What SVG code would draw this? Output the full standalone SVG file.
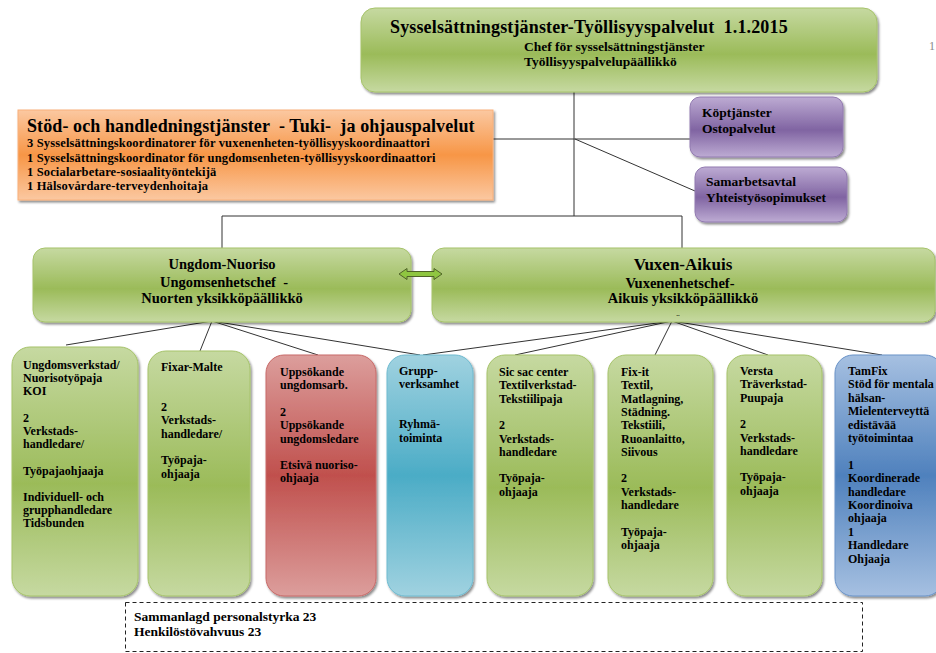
<svg xmlns="http://www.w3.org/2000/svg" width="936" height="653" viewBox="0 0 936 653">
<defs>
<linearGradient id="gGreen" x1="0" y1="0" x2="0" y2="1"><stop offset="0" stop-color="#c6d9a1"/><stop offset="0.55" stop-color="#9bbb59"/><stop offset="1" stop-color="#c6d9a1"/></linearGradient>
<linearGradient id="gRed" x1="0" y1="0" x2="0" y2="1"><stop offset="0" stop-color="#dc9e9c"/><stop offset="0.5" stop-color="#c0504d"/><stop offset="1" stop-color="#dc9e9c"/></linearGradient>
<linearGradient id="gCyan" x1="0" y1="0" x2="0" y2="1"><stop offset="0" stop-color="#a0d2e0"/><stop offset="0.5" stop-color="#4bacc6"/><stop offset="1" stop-color="#a0d2e0"/></linearGradient>
<linearGradient id="gBlue" x1="0" y1="0" x2="0" y2="1"><stop offset="0" stop-color="#a6c0e1"/><stop offset="0.5" stop-color="#4f81bd"/><stop offset="1" stop-color="#a6c0e1"/></linearGradient>
<linearGradient id="gPurple" x1="0" y1="0" x2="0" y2="1"><stop offset="0" stop-color="#bdabd3"/><stop offset="0.55" stop-color="#8064a2"/><stop offset="1" stop-color="#bdabd3"/></linearGradient>
<linearGradient id="gOrange" x1="0" y1="0" x2="0" y2="1"><stop offset="0" stop-color="#fbc8a1"/><stop offset="0.5" stop-color="#f79646"/><stop offset="1" stop-color="#fbc8a1"/></linearGradient>
<filter id="sh" x="-5%" y="-5%" width="115%" height="115%"><feDropShadow dx="1.5" dy="2" stdDeviation="1" flood-color="#000" flood-opacity="0.45"/></filter>
</defs>
<style>
.t{font-family:"Liberation Serif","Times New Roman",serif;font-weight:bold;fill:#000}
.s12{font-size:12px}
.s13{font-size:13.5px}
.s14{font-size:14.5px}
.conn{stroke:#333;stroke-width:1;fill:none}
.box{filter:url(#sh)}
.gr{fill:url(#gGreen);stroke:#a6c36a;stroke-width:1}
.rd{fill:url(#gRed);stroke:#c86a68;stroke-width:1}
.cy{fill:url(#gCyan);stroke:#6fbbd0;stroke-width:1}
.bl{fill:url(#gBlue);stroke:#6a93c8;stroke-width:1}
.pu{fill:url(#gPurple);stroke:#927ab0;stroke-width:1}
.or{fill:url(#gOrange);stroke:#f9b07a;stroke-width:1}
</style>
<rect width="936" height="653" fill="#fff"/>

<g id="connectors">
<path class="conn" d="M574 92 V216 M493 139 H690 M575 139 L695 191 M222 216 H682 M222 216 V248 M682 216 V248"/>
<path class="conn" d="M212 321 L66 345 M212 321 L200 351 M212 321 L318 355 M212 321 L420 355 M672 321 L423 355 M672 321 L515 355 M672 321 L655 355 M672 321 L768 355 M672 321 L882 355"/>
</g>

<g id="top">
<rect class="box gr" x="361" y="8" width="516" height="84" rx="14"/>
<text class="t" x="390" y="33" font-size="18px" letter-spacing="0.15" xml:space="preserve">Sysselsättningstjänster-Työllisyyspalvelut  1.1.2015</text>
<text class="t s13" x="524" y="51">Chef för sysselsättningstjänster</text>
<text class="t s13" x="524" y="66">Työllisyyspalvelupäällikkö</text>
</g>
<text x="929" y="50" font-family="Liberation Serif, serif" font-size="12px" fill="#888">1</text>

<g id="support">
<rect class="box or" x="18" y="110" width="475" height="90"/>
<text class="t" x="27" y="132" font-size="18px" letter-spacing="0.1" xml:space="preserve">Stöd- och handledningstjänster  - Tuki-  ja ohjauspalvelut</text>
<text class="t" font-size="12.5px" letter-spacing="0.15"><tspan x="27" y="147">3 Sysselsättningskoordinatorer för vuxenenheten-työllisyyskoordinaattori</tspan><tspan x="27" y="162">1 Sysselsättningskoordinator för ungdomsenheten-työllisyyskoordinaattori</tspan><tspan x="27" y="176">1 Socialarbetare-sosiaalityöntekijä</tspan><tspan x="27" y="190">1 Hälsovårdare-terveydenhoitaja</tspan></text>
</g>

<g id="kop">
<rect class="box pu" x="690" y="97" width="153" height="60" rx="10"/>
<text class="t" font-size="13.5px"><tspan x="702" y="117">Köptjänster</tspan><tspan x="702" y="133">Ostopalvelut</tspan></text>
</g>
<g id="samarbete">
<rect class="box pu" x="695" y="167" width="152" height="55" rx="10"/>
<text class="t" font-size="13.5px"><tspan x="706" y="186">Samarbetsavtal</tspan><tspan x="706" y="202">Yhteistyösopimukset</tspan></text>
</g>

<g id="ungdom">
<rect class="box gr" x="33" y="248" width="378" height="74" rx="12"/>
<text class="t s14" text-anchor="middle" xml:space="preserve"><tspan x="222" y="269">Ungdom-Nuoriso</tspan><tspan x="224" y="287">Ungomsenhetschef  -</tspan><tspan x="222" y="303">Nuorten yksikköpäällikkö</tspan></text>
</g>
<g id="vuxen">
<rect class="box gr" x="432" y="248" width="503" height="74" rx="12"/>
<text class="t" text-anchor="middle" font-size="17px" x="683" y="270">Vuxen-Aikuis</text>
<text class="t s14" text-anchor="middle"><tspan x="680" y="288">Vuxenenhetschef-</tspan><tspan x="683" y="303">Aikuis yksikköpäällikkö</tspan></text>
<text class="t" text-anchor="middle" font-size="7px" x="678" y="316">..</text>
</g>
<g id="link">
<polygon points="399,274 407,268.5 407,271.5 434,271.5 434,268.5 442,274 434,279.5 434,276.5 407,276.5 407,279.5" fill="#8fc640" stroke="#4f6228" stroke-width="1"/>
</g>

<g id="n1">
<rect class="box gr" x="12" y="347" width="126" height="249" rx="18"/>
<text class="t s12"><tspan x="23" y="369">Ungdomsverkstad/</tspan><tspan x="23" dy="13.2">Nuorisotyöpaja</tspan><tspan x="23" dy="13.2">KOI</tspan><tspan x="23" dy="26.4">2</tspan><tspan x="23" dy="13.2">Verkstads-</tspan><tspan x="23" dy="13.2">handledare/</tspan><tspan x="23" dy="26.4">Työpajaohjaaja</tspan><tspan x="23" dy="26.4">Individuell- och</tspan><tspan x="23" dy="13.2">grupphandledare</tspan><tspan x="23" dy="13.2">Tidsbunden</tspan></text>
</g>
<g id="n2">
<rect class="box gr" x="148" y="351" width="102" height="245" rx="18"/>
<text class="t s12"><tspan x="161" y="371">Fixar-Malte</tspan><tspan x="161" dy="40">2</tspan><tspan x="161" dy="13.3">Verkstads-</tspan><tspan x="161" dy="13.3">handledare/</tspan><tspan x="161" dy="26.6">Työpaja-</tspan><tspan x="161" dy="13.3">ohjaaja</tspan></text>
</g>
<g id="n3">
<rect class="box rd" x="266" y="355" width="110" height="241" rx="18"/>
<text class="t s12"><tspan x="280" y="376">Uppsökande</tspan><tspan x="280" dy="13.3">ungdomsarb.</tspan><tspan x="280" dy="26.6">2</tspan><tspan x="280" dy="13.3">Uppsökande</tspan><tspan x="280" dy="13.3">ungdomsledare</tspan><tspan x="280" dy="26.6">Etsivä nuoriso-</tspan><tspan x="280" dy="13.3">ohjaaja</tspan></text>
</g>
<g id="n4">
<rect class="box cy" x="387" y="355" width="86" height="241" rx="18"/>
<text class="t s12"><tspan x="399" y="375">Grupp-</tspan><tspan x="399" dy="13.3">verksamhet</tspan><tspan x="399" dy="40">Ryhmä-</tspan><tspan x="399" dy="13.3">toiminta</tspan></text>
</g>
<g id="n5">
<rect class="box gr" x="487" y="355" width="106" height="241" rx="18"/>
<text class="t s12"><tspan x="499" y="376">Sic sac center</tspan><tspan x="499" dy="13.3">Textilverkstad-</tspan><tspan x="499" dy="13.3">Tekstiilipaja</tspan><tspan x="499" dy="26.6">2</tspan><tspan x="499" dy="13.3">Verkstads-</tspan><tspan x="499" dy="13.3">handledare</tspan><tspan x="499" dy="26.6">Työpaja-</tspan><tspan x="499" dy="13.3">ohjaaja</tspan></text>
</g>
<g id="n6">
<rect class="box gr" x="608" y="355" width="105" height="241" rx="18"/>
<text class="t s12"><tspan x="621" y="376">Fix-it</tspan><tspan x="621" dy="13.3">Textil,</tspan><tspan x="621" dy="13.3">Matlagning,</tspan><tspan x="621" dy="13.3">Städning.</tspan><tspan x="621" dy="13.3">Tekstiili,</tspan><tspan x="621" dy="13.3">Ruoanlaitto,</tspan><tspan x="621" dy="13.3">Siivous</tspan><tspan x="621" dy="26.6">2</tspan><tspan x="621" dy="13.3">Verkstads-</tspan><tspan x="621" dy="13.3">handledare</tspan><tspan x="621" dy="26.6">Työpaja-</tspan><tspan x="621" dy="13.3">ohjaaja</tspan></text>
</g>
<g id="n7">
<rect class="box gr" x="727" y="355" width="95" height="241" rx="18"/>
<text class="t s12"><tspan x="740" y="375">Versta</tspan><tspan x="740" dy="13.3">Träverkstad-</tspan><tspan x="740" dy="13.3">Puupaja</tspan><tspan x="740" dy="26.6">2</tspan><tspan x="740" dy="13.3">Verkstads-</tspan><tspan x="740" dy="13.3">handledare</tspan><tspan x="740" dy="26.6">Työpaja-</tspan><tspan x="740" dy="13.3">ohjaaja</tspan></text>
</g>
<g id="n8">
<rect class="box bl" x="835" y="355" width="108" height="241" rx="18"/>
<text class="t s12"><tspan x="848" y="375">TamFix</tspan><tspan x="848" dy="13.4">Stöd för mentala</tspan><tspan x="848" dy="13.4">hälsan-</tspan><tspan x="848" dy="13.4">Mielenterveyttä</tspan><tspan x="848" dy="13.4">edistävää</tspan><tspan x="848" dy="13.4">työtoimintaa</tspan><tspan x="848" dy="26.8">1</tspan><tspan x="848" dy="13.4">Koordinerade</tspan><tspan x="848" dy="13.4">handledare</tspan><tspan x="848" dy="13.4">Koordinoiva</tspan><tspan x="848" dy="13.4">ohjaaja</tspan><tspan x="848" dy="13.4">1</tspan><tspan x="848" dy="13.4">Handledare</tspan><tspan x="848" dy="13.4">Ohjaaja</tspan></text>
</g>

<g id="total">
<rect x="125.5" y="602.5" width="737" height="49" fill="none" stroke="#222" stroke-width="1" stroke-dasharray="4,3"/>
<text class="t s13"><tspan x="134" y="621">Sammanlagd personalstyrka 23</tspan><tspan x="134" y="636">Henkilöstövahvuus 23</tspan></text>
</g>
</svg>
